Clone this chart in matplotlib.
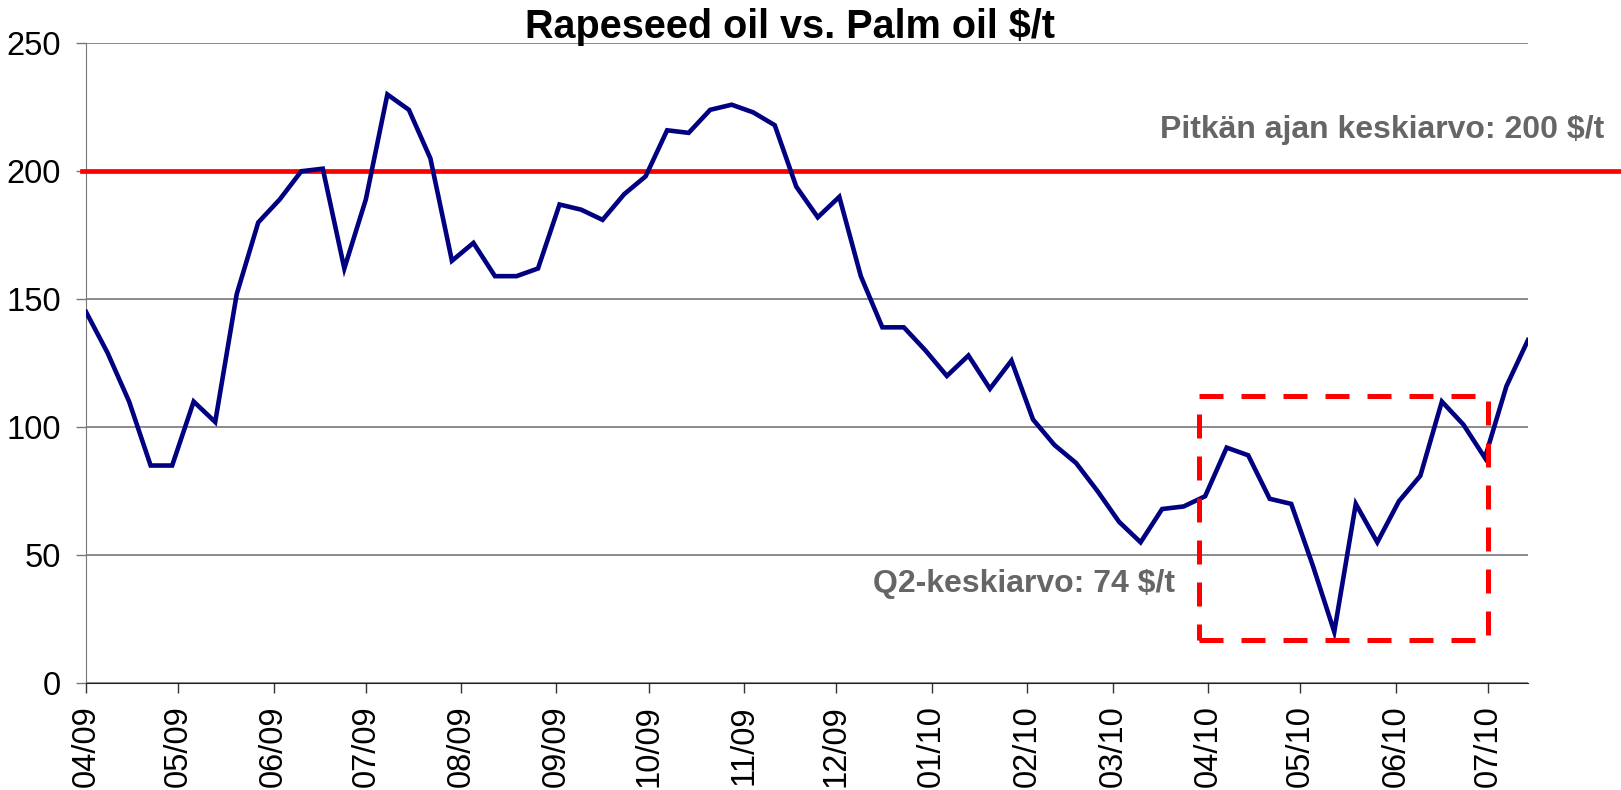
import numpy as np
import matplotlib
matplotlib.use("Agg")
import matplotlib.pyplot as plt
import matplotlib.dates as mdates
from matplotlib.patches import Rectangle

# ---------------------------
# DATA (weekly spread, $/t)
# ---------------------------
start_date = "2009-04-01"
spread = [145, 129, 110, 85, 85, 110, 102, 152, 180, 189,
          200, 201, 162, 189, 230, 224, 205, 165, 172, 159,
          159, 162, 187, 185, 181, 191, 198, 216, 215, 224,
          226, 223, 218, 194, 182, 190, 159, 139, 139, 130,
          120, 128, 115, 126, 103, 93, 86, 75, 63, 55,
          68, 69, 73, 92, 89, 72, 70, 46, 20, 70,
          55, 71, 81, 110, 101, 88, 116, 134]
long_term_avg = 200
q2_avg = 74
q2_box = ("2010-03-29", "2010-07-01", 17, 112)

title = "Rapeseed oil vs. Palm oil $/t"
long_label = "Pitkän ajan keskiarvo: 200 $/t"
q2_label = "Q2-keskiarvo: 74 $/t"

dates = np.datetime64(start_date) + np.arange(len(spread)) * np.timedelta64(7, "D")

# ---------------------------
# PLOT
# ---------------------------
plt.rcParams["font.family"] = ["Liberation Sans", "DejaVu Sans"]

fig = plt.figure(figsize=(16.21, 7.9), dpi=100)
ax = fig.add_axes([0.0531, 0.1354, 0.8895, 0.8098])

ax.plot(dates, spread, color="#000080", lw=3.3, solid_joinstyle="miter", zorder=4)

ax.axhline(long_term_avg, xmin=-0.003, xmax=1.07, color="#ff0000", lw=3.4,
           clip_on=False, zorder=3)

x0 = mdates.date2num(np.datetime64(q2_box[0]))
x1 = mdates.date2num(np.datetime64(q2_box[1]))
ax.add_patch(Rectangle((x0, q2_box[2]), x1 - x0, q2_box[3] - q2_box[2],
                       fill=False, edgecolor="#ff0000", lw=3.6,
                       linestyle=(0, (4.8, 3.6)), zorder=5))

ax.set_xlim(np.datetime64(start_date), dates[-1])
ax.set_ylim(0, 250)
ax.set_yticks([0, 50, 100, 150, 200, 250])
ax.yaxis.grid(True, color="#777777", lw=1.2)
ax.set_axisbelow(True)

ax.xaxis.set_major_locator(mdates.MonthLocator())
ax.xaxis.set_major_formatter(mdates.DateFormatter("%m/%y"))
plt.setp(ax.get_xticklabels(), rotation=90, ha="center", va="top")

ax.tick_params(axis="y", labelsize=23.5, length=7, width=1, color="#777777", pad=11)
ax.tick_params(axis="x", labelsize=23.5, length=7, width=1, color="#333333", pad=9)

for s in ["top", "right"]:
    ax.spines[s].set_visible(False)
ax.spines["left"].set_color("#777777")
ax.spines["bottom"].set_color("#222222")

fig.text(790 / 1621, 1 - 38 / 790, title, ha="center", va="baseline",
         fontsize=28.5, fontweight="bold", color="black")
fig.text(1160 / 1621, 1 - 138 / 790, long_label, ha="left", va="baseline",
         fontsize=23, fontweight="bold", color="#666666")
fig.text(873 / 1621, 1 - 592 / 790, q2_label, ha="left", va="baseline",
         fontsize=23, fontweight="bold", color="#666666")

fig.savefig("out.png", dpi=100)
